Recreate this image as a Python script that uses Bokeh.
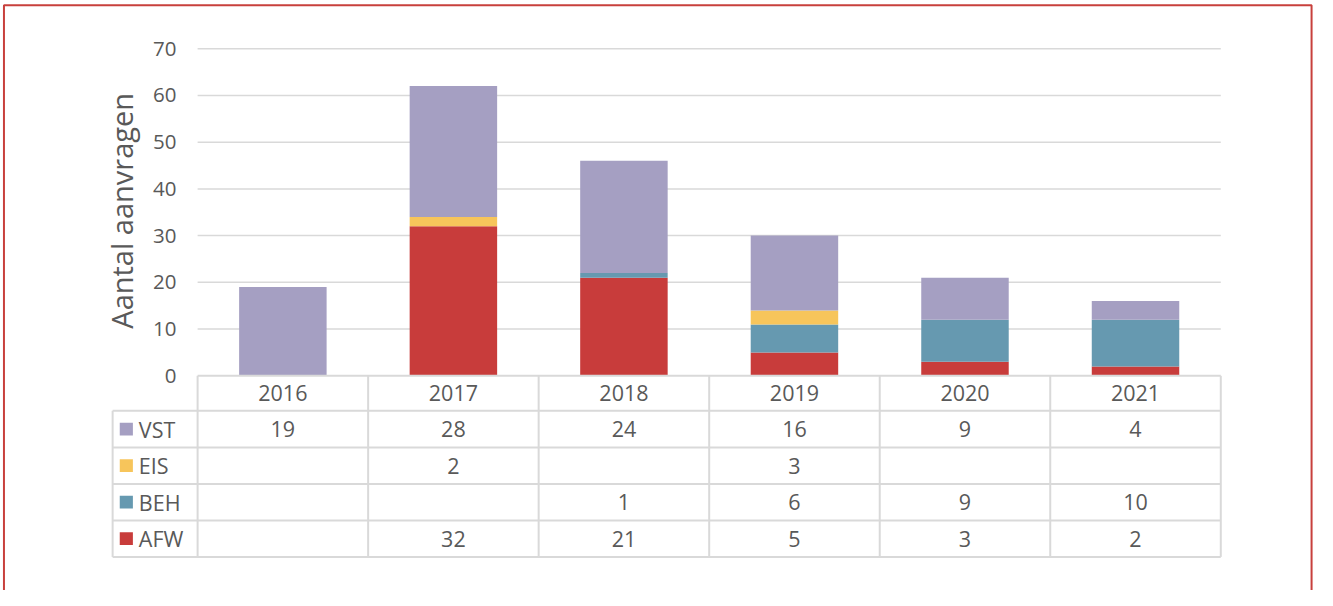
import math
from bokeh.plotting import figure
from bokeh.models import Range1d
from bokeh.core.properties import value
from bokeh.embed import file_html
from bokeh.resources import INLINE

# ---------------- data ----------------
years = ["2016", "2017", "2018", "2019", "2020", "2021"]
series_names = ["VST", "EIS", "BEH", "AFW"]          # table row order (top -> bottom)
vst = [19, 28, 24, 16, 9, 4]
eis = [None, 2, None, 3, None, None]
beh = [None, None, 1, 6, 9, 10]
afw = [None, 32, 21, 5, 3, 2]
y_ticks = [0, 10, 20, 30, 40, 50, 60, 70]
y_label = "Aantal aanvragen"
colors = {"VST": "#a59fc2", "EIS": "#f7c55b", "BEH": "#6699b0", "AFW": "#c83c3b"}
series = {"VST": vst, "EIS": eis, "BEH": beh, "AFW": afw}
stack_order = ["AFW", "BEH", "EIS", "VST"]             # bottom -> top

# ---------------- layout (reference pixels, canvas is a scaled copy) ----------------
W, H = 1317, 590
REF_W, REF_H = 1333, 606
X0_PX, COL_PX = 199.5, 172.6      # x of category 0 left edge, column width
Y0_PX, UNIT_PX = 385.5, 4.8       # y of value 0, px per unit
ROW_EDGES = [385.5, 421.5, 459.0, 496.5, 534.0, 571.5]
LEFT_COL_PX = 113.5
FONT = value("Open Sans")
TXT = "#595959"
LINE = "#d9d9d9"


def xd(px):
    return (px - X0_PX) / COL_PX


def yd(py):
    return (Y0_PX - py) / UNIT_PX


n = len(years)
p = figure(width=W, height=H, output_backend="svg", toolbar_location=None,
           x_range=Range1d(xd(0), xd(REF_W)),
           y_range=Range1d(yd(REF_H), yd(0)),
           x_axis_location=None, y_axis_location=None,
           min_border=0, min_border_left=0, min_border_right=0,
           min_border_top=0, min_border_bottom=0)
p.grid.visible = False
p.outline_line_color = None
p.background_fill_color = "white"
p.border_fill_color = "white"

# gridlines
gt = y_ticks[1:]
p.segment(x0=[0] * len(gt), x1=[n] * len(gt), y0=gt, y1=gt,
          line_color=LINE, line_width=1.5)

# stacked bars
xs = [i + 0.5 for i in range(n)]
base = [0] * n
for name in stack_order:
    vals = [v or 0 for v in series[name]]
    top = [b + v for b, v in zip(base, vals)]
    idx = [i for i in range(n) if vals[i] > 0]
    p.vbar(x=[xs[i] for i in idx], width=0.513,
           bottom=[base[i] for i in idx], top=[top[i] for i in idx],
           fill_color=colors[name], line_color=None)
    base = top

# y tick labels
p.text(x=[xd(178)] * len(y_ticks), y=y_ticks, text=[str(t) for t in y_ticks],
       text_align="right", text_baseline="middle", text_font=FONT,
       text_font_size="20.5px", text_color=TXT)

# axis title
p.text(x=[xd(122)], y=[yd(216)], text=[y_label], angle=math.pi / 2,
       text_align="center", text_baseline="middle", text_font=FONT,
       text_font_size="29px", text_color=TXT)

# ---------------- data table ----------------
ye = [yd(v) for v in ROW_EDGES]
p.segment(x0=[0], x1=[n], y0=[ye[0]], y1=[ye[0]], line_color=LINE, line_width=2)
for yy in ye[1:]:
    p.segment(x0=[xd(LEFT_COL_PX)], x1=[n], y0=[yy], y1=[yy], line_color=LINE, line_width=2)
for i in range(n + 1):
    p.segment(x0=[i], x1=[i], y0=[ye[0]], y1=[ye[-1]], line_color=LINE, line_width=2)
p.segment(x0=[xd(LEFT_COL_PX)], x1=[xd(LEFT_COL_PX)], y0=[ye[1]], y1=[ye[-1]],
          line_color=LINE, line_width=2)

hy = yd((ROW_EDGES[0] + ROW_EDGES[1]) / 2)
p.text(x=xs, y=[hy] * n, text=years, text_align="center", text_baseline="middle",
       text_font=FONT, text_font_size="21.5px", text_color=TXT)

for r, name in enumerate(series_names):
    cy_px = (ROW_EDGES[r + 1] + ROW_EDGES[r + 2]) / 2
    cy = yd(cy_px)
    vals = series[name]
    p.text(x=xs, y=[cy] * n, text=["" if v is None else str(v) for v in vals],
           text_align="center", text_baseline="middle", text_font=FONT,
           text_font_size="21.5px", text_color=TXT)
    p.quad(left=[xd(120.7)], right=[xd(134)], top=[yd(cy_px - 6.5)],
           bottom=[yd(cy_px + 6.5)], fill_color=colors[name], line_color=None)
    p.text(x=[xd(140)], y=[cy], text=[name], text_align="left",
           text_baseline="middle", text_font=FONT, text_font_size="21.5px",
           text_color=TXT)

# ---------------- red frame ----------------
FR = "#c8403c"
fy_top = yd(5)
fy_bot = yd(REF_H + 5)
p.line(x=[xd(3.5), xd(3.5), xd(1327), xd(1327)],
       y=[fy_bot, fy_top, fy_top, fy_bot], line_color=FR, line_width=2)

open("out.html", "w").write(file_html(p, INLINE))
